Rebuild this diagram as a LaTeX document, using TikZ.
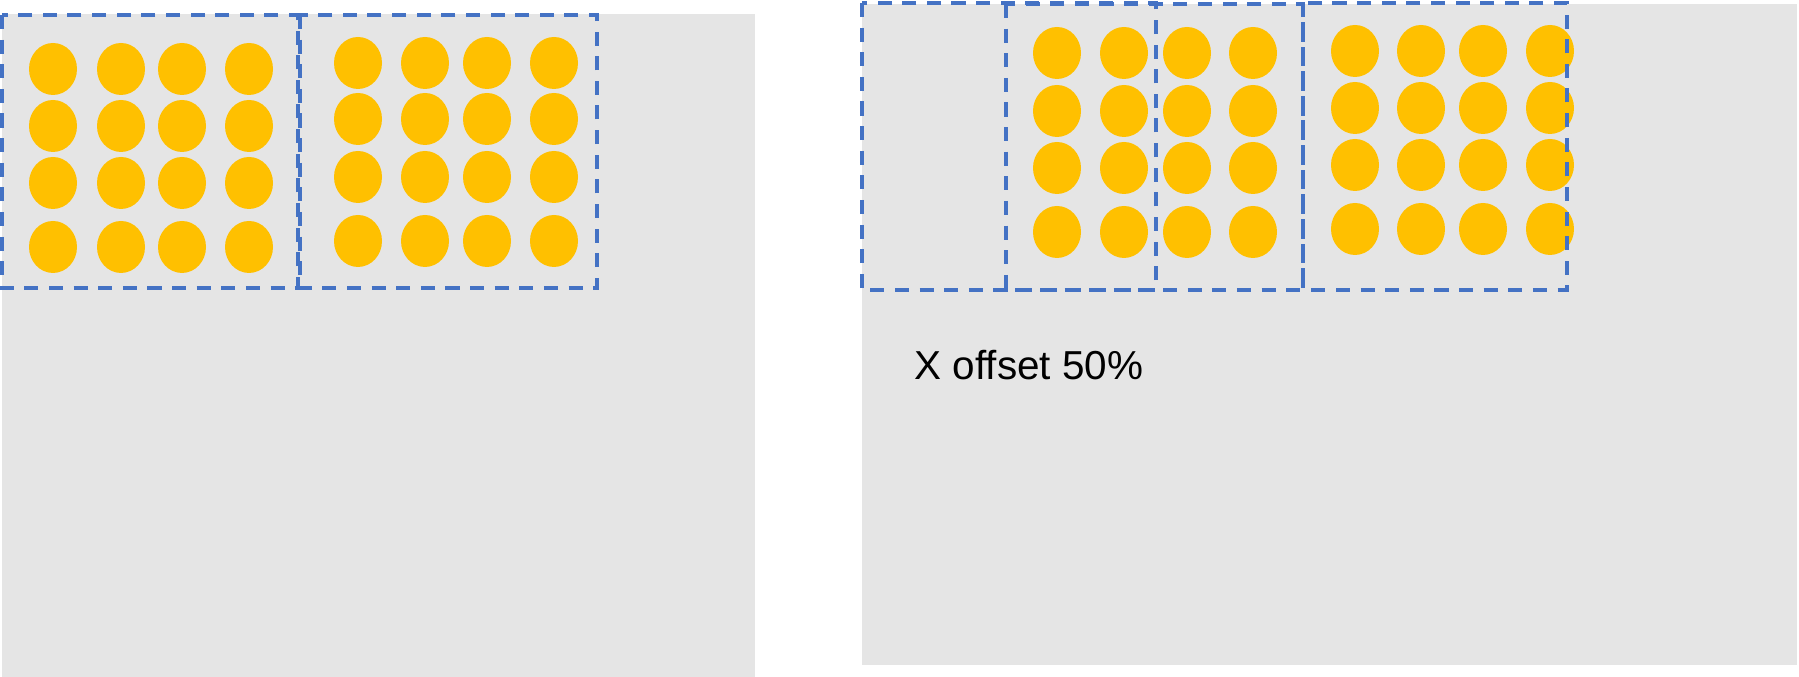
\documentclass[tikz,border=0pt]{standalone}
\usepackage{fontspec}
\setmainfont{Liberation Sans}
\definecolor{bg}{HTML}{E5E5E5}
\definecolor{dot}{HTML}{FFC000}
\definecolor{tile}{HTML}{4472C4}
\begin{document}
\begin{tikzpicture}[x=0.01cm,y=-0.01cm,
  tilebox/.style={draw=tile,line width=1.3pt,dash pattern=on 4pt off 3pt},
  dotc/.style={fill=dot,draw=none}]
\useasboundingbox (0,0) rectangle (1799,677);
\fill[bg] (2,14) rectangle (755,677);
\fill[bg] (862,4) rectangle (1797,665);
% left panel dots
\foreach \x in {53,121,182,249}\foreach \y in {69,126,183,247}
  \fill[dotc] (\x,\y) ellipse [x radius=24, y radius=26];
\foreach \x in {358,425,487,554}\foreach \y in {63,119,177,241}
  \fill[dotc] (\x,\y) ellipse [x radius=24, y radius=26];
\draw[tilebox] (2,15) rectangle (298,288);
\draw[tilebox] (300,15) rectangle (597,288);
% right panel dots
\foreach \x in {1057,1124,1187,1253}\foreach \y in {53,111,168,232}
  \fill[dotc] (\x,\y) ellipse [x radius=24, y radius=26];
\foreach \x in {1355,1421,1483,1550}\foreach \y in {51,108,165,229}
  \fill[dotc] (\x,\y) ellipse [x radius=24, y radius=26];
\draw[tilebox] (862,3) rectangle (1156,290);
\draw[tilebox] (1006,4) rectangle (1303,290);
\draw[tilebox] (1303,3) rectangle (1567,290);
\node[anchor=west,font=\fontsize{11.5pt}{13pt}\selectfont,inner sep=0] (lbl) at (914,365) {X offset 50\%};
\end{tikzpicture}
\end{document}
